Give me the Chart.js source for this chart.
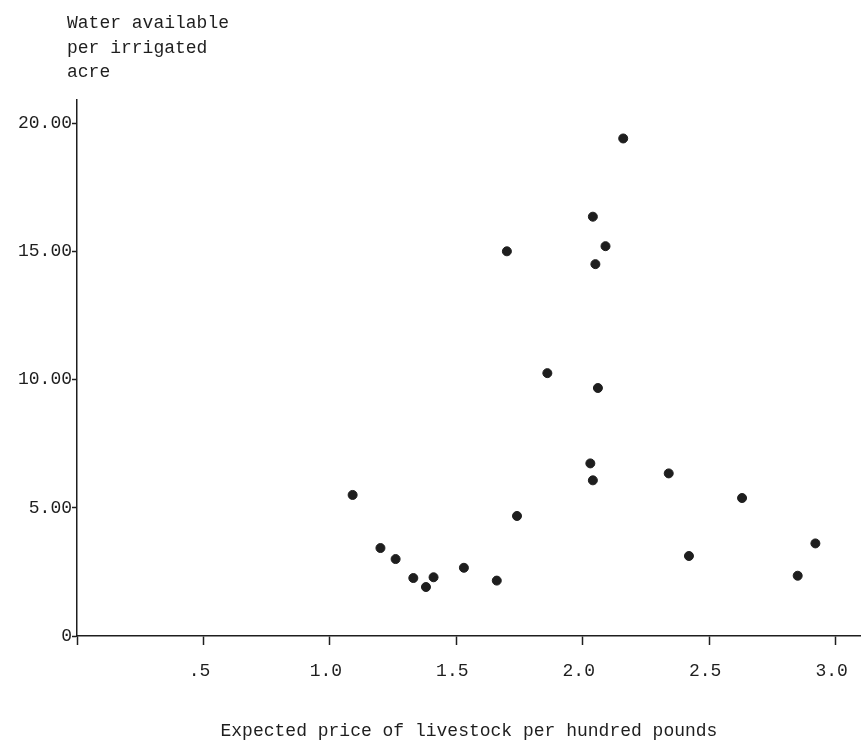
<!DOCTYPE html>
<html>
<head>
<meta charset="utf-8">
<script src="https://cdn.jsdelivr.net/npm/chart.js@4.4.0/dist/chart.umd.min.js"></script>
<style>
  html, body { margin: 0; padding: 0; background: #fff; }
  #wrap { width: 867px; height: 752px; }
</style>
</head>
<body>
<div id="wrap"><canvas id="scatterChart"></canvas></div>
<script>
// data
const priceValues = [1.09, 1.20, 1.26, 1.33, 1.38, 1.41, 1.53, 1.66, 1.74,
  2.03, 2.04, 2.34, 2.42, 2.63, 2.85, 2.92,
  2.16, 2.04, 2.09, 2.05, 1.70, 1.86, 2.06];
const waterValues = [5.5, 3.43, 3.0, 2.26, 1.91, 2.29, 2.66, 2.16, 4.68,
  6.73, 6.07, 6.34, 3.12, 5.38, 2.35, 3.61,
  19.4, 16.35, 15.2, 14.5, 15.0, 10.25, 9.67];
const xTickValues = [0, 0.5, 1.0, 1.5, 2.0, 2.5, 3.0];
const xTickLabels = ['', '.5', '1.0', '1.5', '2.0', '2.5', '3.0'];
const yTickValues = [0, 5, 10, 15, 20];
const yTickLabels = ['0', '5.00', '10.00', '15.00', '20.00'];
const yTitleLines = ['Water available', 'per irrigated', 'acre'];
const xTitle = 'Expected price of livestock per hundred pounds';

const ink = '#1e1e1e';
const fontFamily = '"Liberation Mono", "DejaVu Sans Mono", monospace';

const points = priceValues.map((x, i) => ({ x: x, y: waterValues[i] }));

// y axis title sits above the axis, left aligned
const yTitlePlugin = {
  id: 'yTitle',
  afterDraw(chart) {
    const ctx = chart.ctx;
    ctx.save();
    ctx.fillStyle = ink;
    ctx.font = '18px ' + fontFamily;
    ctx.textAlign = 'left';
    ctx.textBaseline = 'alphabetic';
    yTitleLines.forEach((line, i) => {
      ctx.fillText(line, chart.chartArea.left - 10, 28 + i * 24.5);
    });
    ctx.restore();
  }
};

const ctx = document.getElementById('scatterChart').getContext('2d');
const chart = new Chart(ctx, {
  type: 'scatter',
  data: {
    datasets: [{
      data: points,
      backgroundColor: ink,
      borderColor: ink,
      pointRadius: 4.5,
      pointBorderWidth: 1
    }]
  },
  options: {
    responsive: true,
    maintainAspectRatio: false,
    animation: false,
    layout: { padding: { top: 100, right: 3, left: 0, bottom: 0 } },
    plugins: {
      legend: { display: false },
      tooltip: { enabled: false }
    },
    scales: {
      x: {
        type: 'linear',
        min: 0,
        max: 3.1,
        afterBuildTicks: (scale) => { scale.ticks = xTickValues.map(v => ({ value: v })); },
        afterFit: (scale) => { scale.height = 116; },
        border: { display: true, color: ink, width: 1.5 },
        grid: { drawOnChartArea: false, drawTicks: true, tickLength: 9, tickColor: ink, tickWidth: 1.5 },
        ticks: {
          color: ink,
          font: { family: fontFamily, size: 18 },
          padding: 15,
          labelOffset: -4,
          maxRotation: 0,
          autoSkip: false,
          callback: (value, index) => xTickLabels[index]
        },
        title: {
          display: true,
          text: xTitle,
          color: ink,
          font: { family: fontFamily, size: 18 },
          padding: 10
        }
      },
      y: {
        type: 'linear',
        min: 0,
        max: 20.9,
        afterBuildTicks: (scale) => { scale.ticks = yTickValues.map(v => ({ value: v })); },
        afterFit: (scale) => { scale.width = 77; },
        border: { display: true, color: ink, width: 1.5 },
        grid: { drawOnChartArea: false, drawTicks: true, tickLength: 5, tickColor: ink, tickWidth: 1.5 },
        ticks: {
          color: ink,
          font: { family: fontFamily, size: 18 },
          padding: 0,
          autoSkip: false,
          callback: (value, index) => yTickLabels[index]
        }
      }
    }
  },
  plugins: [yTitlePlugin]
});
</script>
</body>
</html>
